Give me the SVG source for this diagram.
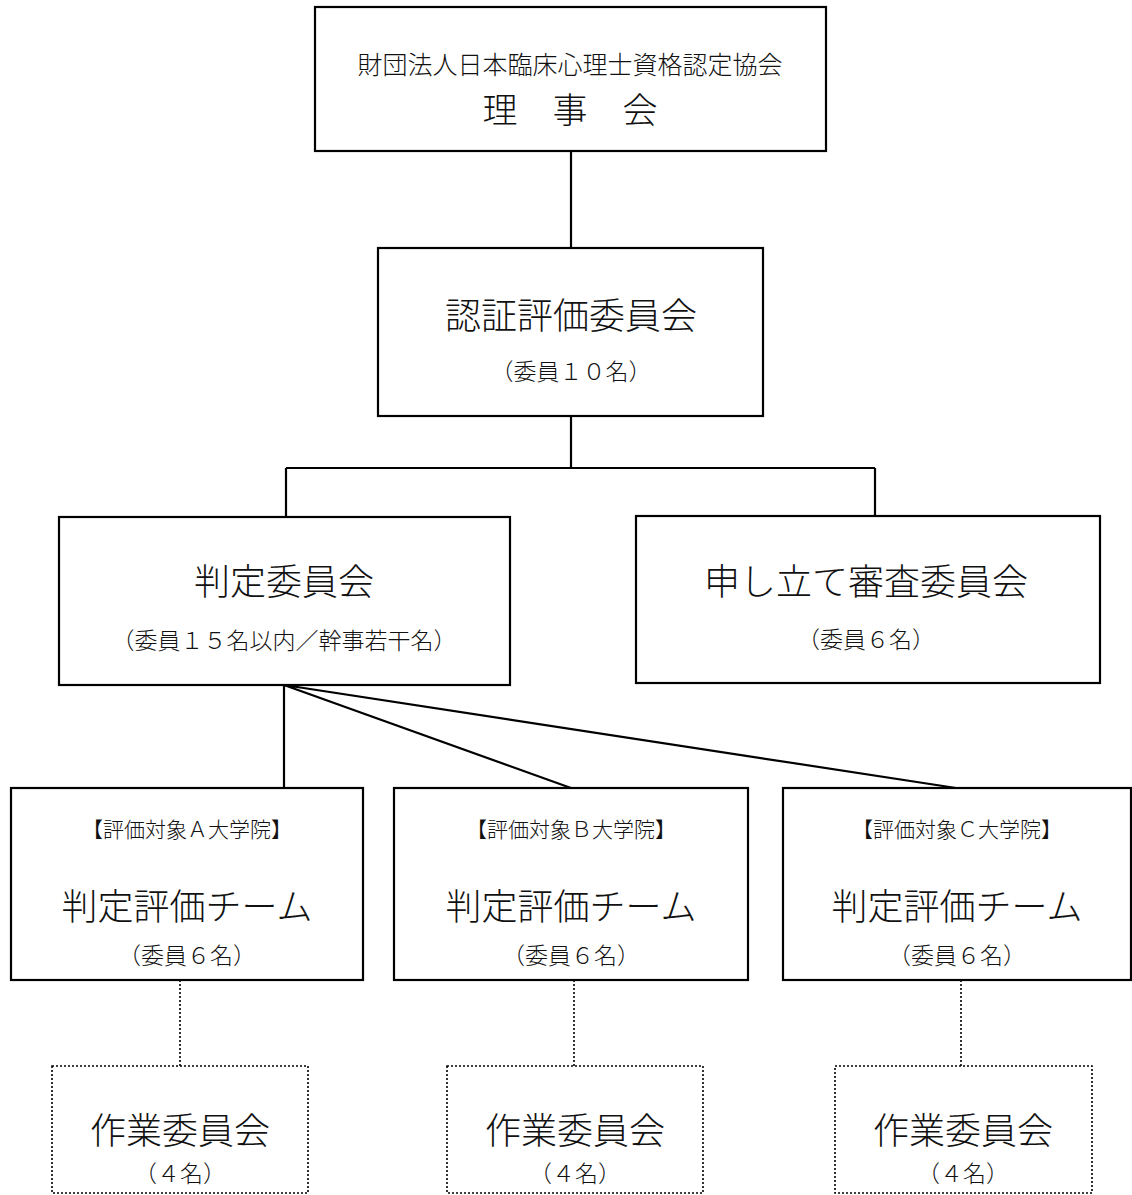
<svg xmlns="http://www.w3.org/2000/svg" width="1132" height="1195" viewBox="0 0 1132 1195">
<style>
.box{fill:#fff;stroke:#000;stroke-width:2.2}
.dbox{fill:#fff;stroke:#000;stroke-width:1.6;stroke-dasharray:2 2}
.ln{fill:none;stroke:#000;stroke-width:2.2}
.dl{fill:none;stroke:#000;stroke-width:1.6;stroke-dasharray:2 2}
text{font-family:"Noto Sans CJK JP","Noto Sans CJK SC",sans-serif;fill:#111;text-anchor:middle;dominant-baseline:central;font-weight:300}
.l{font-size:36px}
.s{font-size:23px}
.m{font-size:21px}
</style>
<rect width="1132" height="1195" fill="#fff"/>
<g id="connectors">
<path class="ln" d="M571 151V248M571 416V468M286 468H875M286 468V517M875 468V516"/>
<path class="ln" d="M284 685V788M284 685L571 788M284 685L956 788"/>
<path class="dl" d="M180 980V1066M574 980V1066M961 980V1066"/>
</g>
<g id="board">
<rect class="box" x="315" y="7" width="511" height="144"/>
<text x="570" y="63" style="font-size:25px">財団法人日本臨床心理士資格認定協会</text>
<text x="570" y="107" style="font-size:35px">理　事　会</text>
</g>
<g id="ninsho">
<rect class="box" x="378" y="248" width="385" height="168"/>
<text class="l" x="571" y="313">認証評価委員会</text>
<text class="s" x="571" y="370">（委員１０名）</text>
</g>
<g id="hantei">
<rect class="box" x="59" y="517" width="451" height="168"/>
<text class="l" x="284" y="579">判定委員会</text>
<text class="s" x="284" y="639">（委員１５名以内／幹事若干名）</text>
</g>
<g id="moushitate">
<rect class="box" x="636" y="516" width="464" height="167"/>
<text class="l" x="866" y="579">申し立て審査委員会</text>
<text class="s" x="866" y="638">（委員６名）</text>
</g>
<g id="teamA">
<rect class="box" x="11" y="788" width="352" height="192"/>
<text class="m" x="187" y="828">【評価対象Ａ大学院】</text>
<text class="l" x="187" y="904">判定評価チーム</text>
<text class="s" x="187" y="954">（委員６名）</text>
</g>
<g id="teamB">
<rect class="box" x="394" y="788" width="354" height="192"/>
<text class="m" x="571" y="828">【評価対象Ｂ大学院】</text>
<text class="l" x="571" y="904">判定評価チーム</text>
<text class="s" x="571" y="954">（委員６名）</text>
</g>
<g id="teamC">
<rect class="box" x="783" y="788" width="348" height="192"/>
<text class="m" x="957" y="828">【評価対象Ｃ大学院】</text>
<text class="l" x="957" y="904">判定評価チーム</text>
<text class="s" x="957" y="954">（委員６名）</text>
</g>
<g id="sagyoA">
<rect class="dbox" x="52" y="1066" width="256" height="127"/>
<text class="l" x="180" y="1128">作業委員会</text>
<text class="s" x="180" y="1172">（４名）</text>
</g>
<g id="sagyoB">
<rect class="dbox" x="447" y="1066" width="256" height="127"/>
<text class="l" x="575" y="1128">作業委員会</text>
<text class="s" x="575" y="1172">（４名）</text>
</g>
<g id="sagyoC">
<rect class="dbox" x="835" y="1066" width="257" height="127"/>
<text class="l" x="963" y="1128">作業委員会</text>
<text class="s" x="963" y="1172">（４名）</text>
</g>
</svg>
